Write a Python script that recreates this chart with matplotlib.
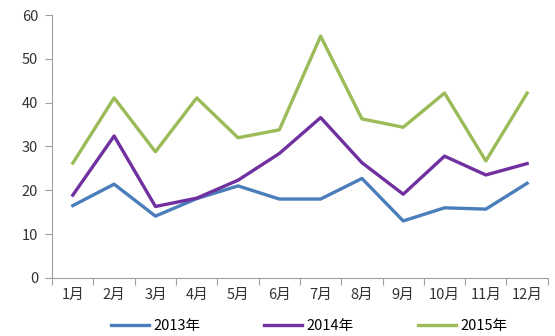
import numpy as np
import matplotlib.pyplot as plt

plt.rcParams['font.family'] = ['Noto Sans CJK SC', 'DejaVu Sans']

months = ['1月', '2月', '3月', '4月', '5月', '6月', '7月', '8月', '9月', '10月', '11月', '12月']
y2013 = [16.5, 21.4, 14.1, 18.1, 21.0, 18.0, 18.0, 22.7, 13.0, 16.0, 15.7, 21.6]
y2014 = [18.9, 32.4, 16.3, 18.2, 22.3, 28.4, 36.6, 26.3, 19.1, 27.8, 23.5, 26.1]
y2015 = [26.2, 41.1, 28.8, 41.1, 32.0, 33.8, 55.2, 36.3, 34.4, 42.2, 26.7, 42.2]

fig = plt.figure(figsize=(5.55, 3.36), dpi=100)
ax = fig.add_axes([0.094, 0.173, 0.893, 0.782])

x = np.arange(len(months))
ax.plot(x, y2013, color='#4A7EBB', lw=2.4, label='2013年')
ax.plot(x, y2014, color='#7030A0', lw=2.4, label='2014年')
ax.plot(x, y2015, color='#9BBB59', lw=2.4, label='2015年')

ax.set_xlim(-0.5, len(months) - 0.5)
ax.set_ylim(0, 60)
ax.set_yticks(range(0, 61, 10))
# ticks sit between categories, labels in the middle
ax.set_xticks(np.arange(-0.5, len(months), 1))
ax.set_xticklabels([])
ax.set_xticks(x, minor=True)
ax.set_xticklabels(months, minor=True)
ax.tick_params(axis='x', which='minor', length=0, pad=7)
ax.tick_params(axis='x', which='major', length=5, color='#A0A0A0')
ax.tick_params(axis='y', length=5, color='#A0A0A0', pad=5)
ax.tick_params(labelsize=10.5, labelcolor='#333333', which='both')

for s in ['top', 'right']:
    ax.spines[s].set_visible(False)
for s in ['left', 'bottom']:
    ax.spines[s].set_color('#A0A0A0')

fig.legend(loc='lower center', ncol=3, frameon=False, fontsize=10.5,
           handlelength=2.6, columnspacing=4.4, handletextpad=0.3,
           bbox_to_anchor=(0.557, -0.03))

fig.savefig('out.png', dpi=100)
